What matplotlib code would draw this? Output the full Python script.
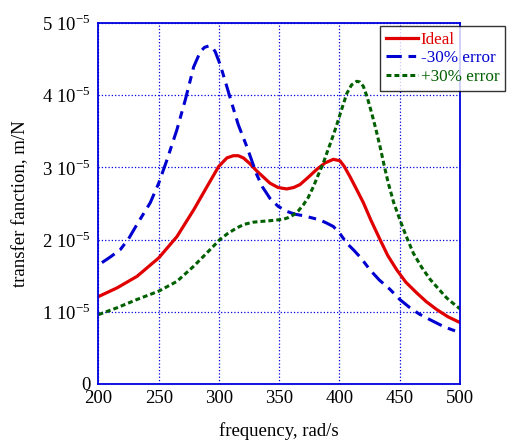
import numpy as np
import matplotlib.pyplot as plt

# frequency (rad/s) and transfer function values (units of 1e-5 m/N)
f_ideal = [200, 215.4, 232, 250, 265.1, 279, 290, 299.7, 306.6, 311.9, 316, 320.2, 325, 331.3,
           342.3, 349, 356.2, 362, 367.2, 374, 381.1, 388, 394.9, 400.4, 404, 408.7, 414,
           419.8, 426, 433.6, 440, 447.5, 455, 464.1, 472, 480.7, 490, 500]
y_ideal = [1.21, 1.33, 1.49, 1.745, 2.04, 2.41, 2.73, 3.01, 3.13, 3.16, 3.16, 3.13, 3.06, 2.95,
           2.78, 2.72, 2.70, 2.72, 2.76, 2.86, 2.97, 3.06, 3.11, 3.09, 3.01, 2.87, 2.70,
           2.51, 2.27, 2.0, 1.78, 1.58, 1.41, 1.26, 1.14, 1.03, 0.93, 0.85]

f_minus = [202.9, 210, 218.1, 225, 232, 243, 250, 256.8, 265.1, 272, 279, 284.5, 288, 291.5,
           294.5, 296.9, 301, 305.2, 310, 316, 323, 331.3, 336, 342.3, 349, 356.2, 363, 370,
           377, 383.8, 389, 394.9, 400, 406, 412, 418, 425.3, 433, 441.9, 450, 458.5, 466,
           475.1, 487, 500]
y_minus = [1.68, 1.76, 1.86, 2.01, 2.21, 2.51, 2.78, 3.10, 3.52, 3.93, 4.39, 4.60, 4.66, 4.68,
           4.66, 4.60, 4.42, 4.19, 3.92, 3.59, 3.29, 2.90, 2.73, 2.57, 2.46, 2.39, 2.35, 2.33,
           2.30, 2.27, 2.23, 2.18, 2.09, 1.95, 1.85, 1.74, 1.58, 1.44, 1.31, 1.17, 1.055, 0.97,
           0.89, 0.79, 0.71]

f_plus = [200, 215.4, 232, 250, 265.1, 279, 290, 300.8, 307, 314.7, 321, 328.5, 335, 342.3,
          348, 353.4, 357, 361.7, 366, 370, 374, 378.3, 382, 386.6, 390, 393.5, 397, 401,
          406, 410, 414.3, 417, 419.8, 423, 426.7, 430, 433.6, 437, 440.5, 445, 450.2, 455,
          461.3, 468, 475.1, 482, 489, 494, 500]
y_plus = [0.96, 1.055, 1.17, 1.285, 1.42, 1.63, 1.815, 2.0, 2.08, 2.16, 2.21, 2.24, 2.25, 2.26,
          2.27, 2.28, 2.30, 2.34, 2.40, 2.48, 2.58, 2.73, 2.88, 3.06, 3.22, 3.38, 3.55, 3.76,
          4.02, 4.14, 4.19, 4.18, 4.12, 3.97, 3.75, 3.54, 3.29, 3.03, 2.78, 2.51, 2.27, 2.06,
          1.81, 1.62, 1.45, 1.32, 1.19, 1.12, 1.04]

xticks = [200, 250, 300, 350, 400, 450, 500]
yticks = [0, 1, 2, 3, 4, 5]
ytick_labels = ['0', '1 10$^{-5}$', '2 10$^{-5}$', '3 10$^{-5}$', '4 10$^{-5}$', '5 10$^{-5}$']

plt.rcParams['font.family'] = 'Liberation Serif'
plt.rcParams['mathtext.fontset'] = 'custom'
plt.rcParams['mathtext.rm'] = 'Liberation Serif'

fig = plt.figure(figsize=(5.11, 4.47), dpi=100)
ax = fig.add_axes([0.1927, 0.141, 0.7075, 0.808])

ax.plot(f_ideal, y_ideal, color='#e00000', lw=2.3, label='Ideal')
ax.plot(f_minus, y_minus, color='#0000d0', lw=2.2, dashes=(5, 2.2, 2.5, 2.2), label='-30% error')
ax.plot(f_plus, y_plus, color='#006000', lw=2.2, dashes=(1.6, 1.0), label='+30% error')

ax.set_xlim(200, 500)
ax.set_ylim(0, 5)
ax.set_xticks(xticks)
ax.set_yticks(yticks)
ax.set_yticklabels(ytick_labels)
ax.tick_params(labelsize=13.5, length=0)
ax.tick_params(axis='x', pad=4)
ax.tick_params(axis='y', pad=6)
ax.grid(True, color='#0000e0', ls=':', lw=0.9)
for s in ax.spines.values():
    s.set_color('#0000e0')
    s.set_linewidth(1.3)

ax.set_xlabel('frequency, rad/s', fontsize=13.5, labelpad=11)
ax.set_ylabel('transfer fanction, m/N', fontsize=13.5, labelpad=9)

leg = ax.legend(loc='upper left', bbox_to_anchor=(0.778, 0.992), fontsize=12.3, frameon=True,
                fancybox=False, edgecolor='black', handlelength=1.9, handletextpad=0.15,
                borderpad=0.35, labelspacing=0.15, borderaxespad=0)
leg.get_frame().set_linewidth(1.0)
for txt, c in zip(leg.get_texts(), ['#e00000', '#0000d0', '#006000']):
    txt.set_color(c)

fig.savefig('out.png', dpi=100)
